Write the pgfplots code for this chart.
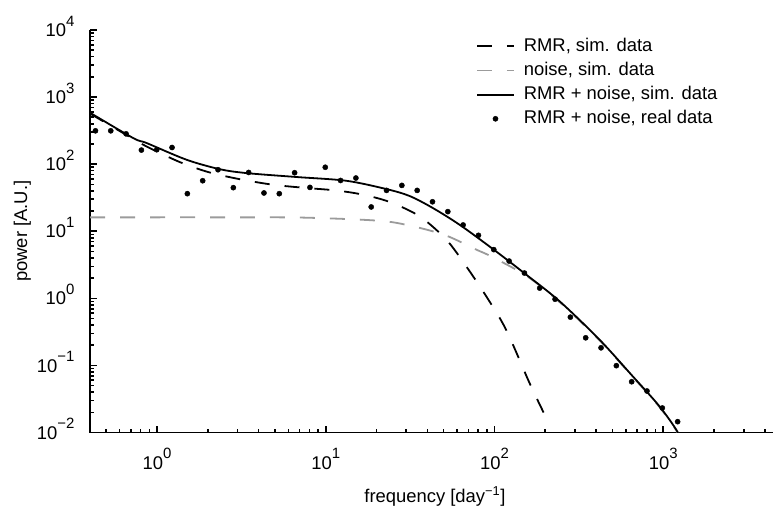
\documentclass[border=0pt]{standalone}
\usepackage{fontspec}
\setmainfont{Liberation Sans}
\usepackage{pgfplots}
\pgfplotsset{compat=1.18}
\definecolor{noisegray}{RGB}{155,155,155}
% exponent with a real minus sign, raised high as in the original
\newcommand\expo[1]{\pgfmathtruncatemacro\ex{round(#1)}%
  \raisebox{10.5bp}{\fontsize{15}{15}\selectfont\ifnum\ex<0 −\number-\ex\else\ex\fi}}

\begin{document}
\begin{tikzpicture}[font=\fontsize{18.5}{22}\selectfont]
\begin{axis}[
    name=ax,
    xmode=log, ymode=log,
    log basis x=10, log basis y=10,
    scale only axis,
    width=684bp, height=403bp,
    xmin=0.4, xmax=4480,
    ymin=0.01, ymax=10000,
    axis x line*=bottom, axis y line*=left,
    xtick pos=bottom, ytick pos=left,
    tick align=inside,
    axis line style={line width=1.8bp},
    major tick length=7bp, minor tick length=4bp,
    every tick/.style={line width=1.6bp, black},
    xticklabel={10\expo{\tick}},
    yticklabel={10\expo{\tick}},
    xticklabel style={anchor=base, yshift=-37bp},
    yticklabel style={anchor=base east, yshift=-6.6bp, xshift=-12bp},
    xlabel={frequency [day\textsuperscript{−1}]},
    ylabel={power [A.U.]},
    xlabel style={at={(axis description cs:0.505,-0.159)}, anchor=center},
    ylabel style={at={(axis description cs:-0.099,0.5)}, anchor=center},
    legend style={draw=none, fill=none, at={(0.565,0.99)}, anchor=north west,
        inner sep=0pt, row sep=0pt,
        nodes={inner xsep=4bp, inner ysep=3bp, text height=14bp, text depth=4.2bp},
        /tikz/every odd column/.append style={column sep=5bp}},
    legend cell align=left,
    legend image code/.code={\draw[mark repeat=2,mark phase=2,#1]
        plot coordinates {(0bp,0bp) (18.5bp,0bp) (37bp,0bp)};},
]
\addplot[black, line width=1.8bp, dash pattern=on 15bp off 15bp, smooth] coordinates {
(0.4016,566) (0.662,270) (0.869,183) (1.368,107) (2.03,75.7) (3.10,59.6)
(4.88,49.3) (7.69,44.1) (11.57,40.5) (16.6,35.1) (23.9,27.3) (36.0,16.7)
(51.8,7.50) (68.0,3.00) (89.4,1.07) (117,0.343) (161,0.0553) (202,0.0167) (212,0.0130)
};
\addlegendentry{RMR, sim. data}
\addplot[noisegray, line width=1.8bp, dash pattern=on 15bp off 15bp, smooth] coordinates {
(0.4016,16.1) (3.0,16.1) (7.02,16.0) (15.9,14.9) (25.0,13.6) (39.4,10.6)
(54.2,8.22) (78.0,5.32) (93.4,4.33) (154,2.18) (243,0.88) (418,0.238)
(658,0.068) (947,0.0242) (1216,0.0100) (1300,0.006)
};
\addlegendentry{noise, sim. data}
\addplot[black, line width=1.8bp, smooth] coordinates {
(0.4016,582) (0.724,244) (0.869,206) (1.50,116) (2.36,84) (3.40,73.5)
(6.71,64.3) (13.25,56.5) (22.9,42.5) (31.4,33.5) (43.1,22.2) (62.1,12.5)
(97.7,5.45) (154,2.26) (243,0.905) (418,0.244) (658,0.0693) (947,0.0248)
(1216,0.0102) (1300,0.006)
};
\addlegendentry{RMR + noise, sim. data}
\addplot[only marks, mark=*, mark size=2.6bp, black] coordinates {
(0.4315,314) (0.5318,314) (0.6555,283) (0.8080,162) (0.9959,164) (1.2274,177)
(1.5128,36.3) (1.8646,56.6) (2.2982,82.6) (2.8326,44.6) (3.4914,75.2) (4.3032,37.2)
(5.3039,36.3) (6.5373,74.5) (8.0574,45.0) (9.931,89.9) (12.240,57.1) (15.087,62.1)
(18.595,23.0) (22.919,40.6) (28.25,48.2) (34.82,40.6) (42.91,27.5) (52.89,19.6)
(65.19,12.4) (80.35,8.69) (99.04,5.32) (122.1,3.59) (150.5,2.38) (185.4,1.42)
(228.6,0.970) (281.7,0.524) (347.2,0.258) (428.0,0.183) (527.5,0.0991) (650.2,0.0571)
(801.4,0.0415) (987.7,0.0232) (1217.4,0.0145)
};
\addlegendentry{RMR + noise, real data}
\end{axis}
\useasboundingbox ([xshift=-90bp,yshift=-78bp]ax.south west) rectangle ([yshift=30bp]ax.north east);
\end{tikzpicture}
\end{document}
